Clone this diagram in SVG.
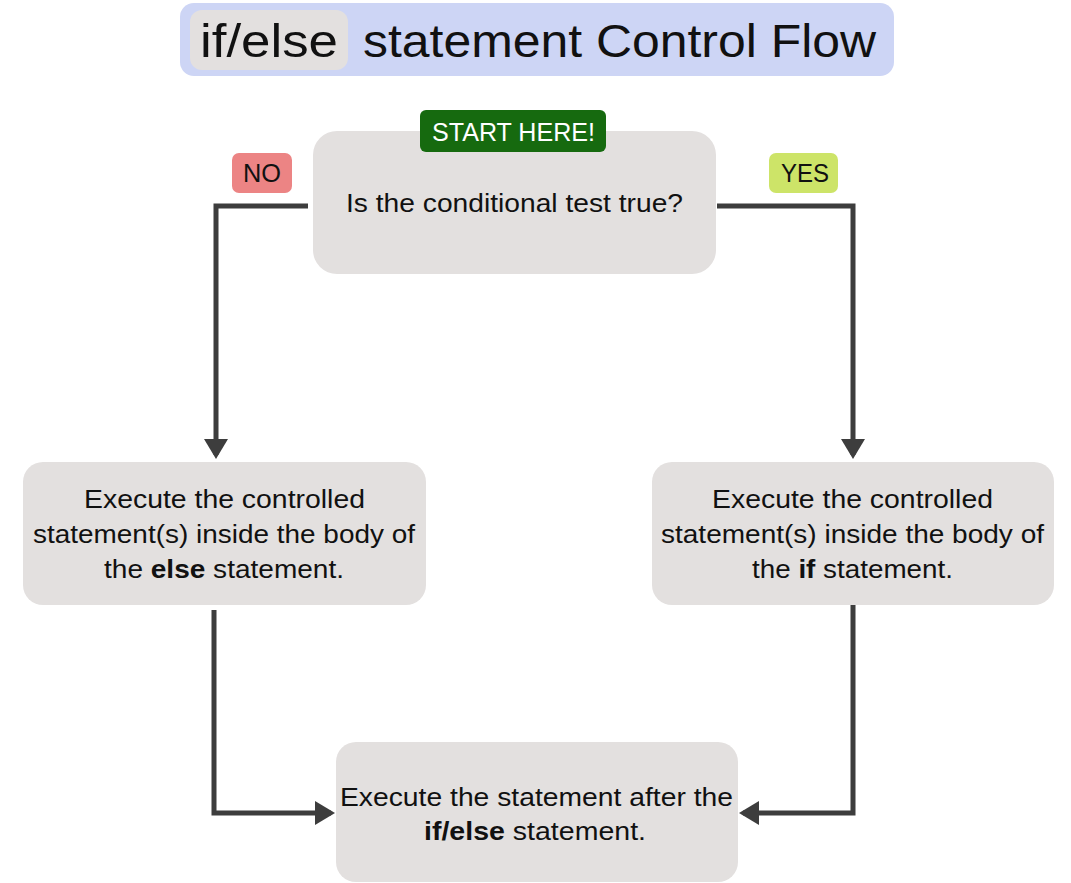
<svg xmlns="http://www.w3.org/2000/svg" width="1071" height="883" viewBox="0 0 1071 883">
<defs>
<style>
.box{fill:#e3e0df}
.t{font-family:"Liberation Sans",Arial,sans-serif;font-size:25px;fill:#111;text-anchor:middle}
.b{font-weight:bold}
.conn{fill:none;stroke:#3d3d3d;stroke-width:5}
</style>
<marker id="ah" markerWidth="6" markerHeight="6" refX="3.2" refY="3" orient="auto" markerUnits="strokeWidth">
<path d="M0,0.6 L4,3 L0,5.4 Z" fill="#3d3d3d"/>
</marker>
</defs>
<rect width="1071" height="883" fill="#ffffff"/>
<g id="title">
<rect x="180" y="3" width="714" height="73" rx="14" fill="#cdd5f5"/>
<rect x="190" y="10" width="158" height="60" rx="12" fill="#e3e0df"/>
<text x="269" y="57" font-family="'Liberation Sans',Arial,sans-serif" font-size="46" fill="#111" text-anchor="middle" textLength="138" lengthAdjust="spacingAndGlyphs">if/else</text>
<text x="619.5" y="57" font-family="'Liberation Sans',Arial,sans-serif" font-size="46" fill="#111" text-anchor="middle" textLength="513" lengthAdjust="spacingAndGlyphs">statement Control Flow</text>
</g>
<g id="connectors">
<path class="conn" d="M308,206 H216 V455" marker-end="url(#ah)"/>
<path class="conn" d="M717,206 H853 V455" marker-end="url(#ah)"/>
<path class="conn" d="M214,610 V813 H331" marker-end="url(#ah)"/>
<path class="conn" d="M853,605 V813 H743" marker-end="url(#ah)"/>
</g>
<g id="start">
<rect class="box" x="313" y="131" width="403" height="143" rx="24"/>
<text class="t" x="514.5" y="212" textLength="337" lengthAdjust="spacingAndGlyphs">Is the conditional test true?</text>
</g>
<g id="start-badge">
<rect x="420" y="110" width="186" height="42" rx="6" fill="#166a0f"/>
<text class="t" x="513.5" y="141" style="fill:#ffffff" textLength="163" lengthAdjust="spacingAndGlyphs">START HERE!</text>
</g>
<g id="no-label">
<rect x="232" y="153" width="60" height="40" rx="7" fill="#ec8484"/>
<text class="t" x="262" y="182" textLength="38" lengthAdjust="spacingAndGlyphs">NO</text>
</g>
<g id="yes-label">
<rect x="769" y="153" width="69" height="40" rx="7" fill="#cde468"/>
<text class="t" x="805" y="182" textLength="48" lengthAdjust="spacingAndGlyphs">YES</text>
</g>
<g id="else-body">
<rect class="box" x="23" y="462" width="403" height="143" rx="20"/>
<text class="t" x="224.5" y="508" textLength="281" lengthAdjust="spacingAndGlyphs">Execute the controlled</text>
<text class="t" x="224" y="543" textLength="382" lengthAdjust="spacingAndGlyphs">statement(s) inside the body of</text>
<text class="t" x="224" y="578" textLength="240" lengthAdjust="spacingAndGlyphs">the <tspan class="b">else</tspan> statement.</text>
</g>
<g id="if-body">
<rect class="box" x="652" y="462" width="402" height="143" rx="20"/>
<text class="t" x="852.5" y="508" textLength="281" lengthAdjust="spacingAndGlyphs">Execute the controlled</text>
<text class="t" x="852.5" y="543" textLength="383" lengthAdjust="spacingAndGlyphs">statement(s) inside the body of</text>
<text class="t" x="852.5" y="578" textLength="201" lengthAdjust="spacingAndGlyphs">the <tspan class="b">if</tspan> statement.</text>
</g>
<g id="after">
<rect class="box" x="336" y="742" width="402" height="140" rx="20"/>
<text class="t" x="536.5" y="806" textLength="393" lengthAdjust="spacingAndGlyphs">Execute the statement after the</text>
<text class="t" x="535" y="840" textLength="222" lengthAdjust="spacingAndGlyphs"><tspan class="b">if/else</tspan> statement.</text>
</g>
</svg>
